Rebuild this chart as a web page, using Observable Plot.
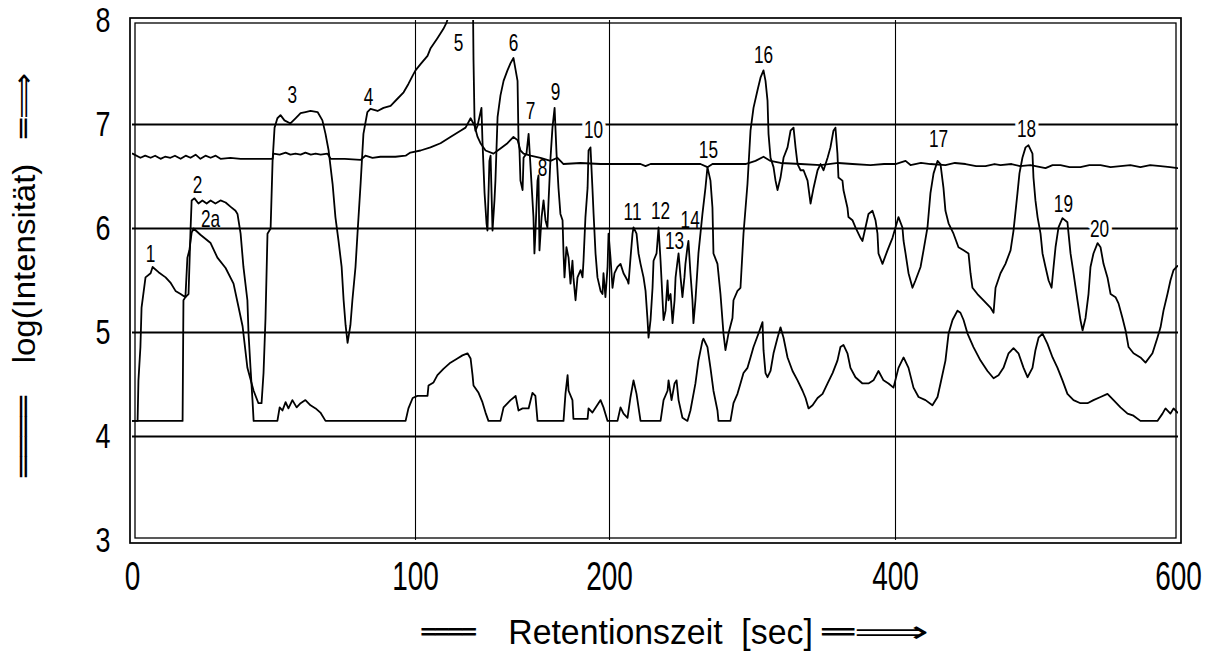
<!DOCTYPE html>
<html>
<head>
<meta charset="utf-8">
<script src="https://cdn.jsdelivr.net/npm/d3@7"></script>
<script src="https://cdn.jsdelivr.net/npm/@observablehq/plot@0.6"></script>
<style>
  html, body { margin: 0; padding: 0; background: #fff; }
  #chart svg { display: block; }
</style>
</head>
<body>
<div id="chart"></div>
<script>
// ---- axis / tick data ----
const xTicks = [0, 100, 200, 400, 600];
const yTicks = [3, 4, 5, 6, 7, 8];
const xGrid = [100, 200, 400];
const yGrid = [4, 5, 6, 7];
const xTitle = "Retentionszeit\u00a0\u00a0[sec]";
const yTitle = "log(Intensität)";
const barGlyph = "════";
const arrowGlyph = "═⟹";

// ---- series A: upper, nearly flat trace ----
const timeA = [0,2.8,4.5,6.4,8.0,9.9,11.5,13.4,15.0,17.0,18.8,20.5,22.3,24.0,25.8,27.6,29.4,31.1,34.6,38.2,43.0,49.5,49.8,52.0,54.1,55.8,57.6,59.4,61.1,63.0,64.7,66.5,68.9,70.0,75.0,80.6,82.3,84.8,87.6,92.9,96.5,98.2,102.6,107.7,112.9,118.0,123.2,125.8,128.4,130.4,132.0,133.5,136.1,140.2,143.8,147.4,150.5,152.6,154.1,155.7,159.3,164.4,169.6,173.2,176.3,185,195.4,210,221.7,225.2,228.7,245,263.6,268.5,272.0,285,295.1,302.1,307.7,312.6,319.6,333.6,347.6,360,369.9,382.5,392,400,407.1,410.6,418,424.7,435.3,442,449.5,457,463.6,470,474.2,482,488,495.4,506.0,511,516.6,523,530.7,537,544.9,552,559.0,566,573.1,580,587.3,594,599.3];
const logA = [6.72,6.68,6.70,6.68,6.70,6.67,6.69,6.68,6.70,6.67,6.70,6.68,6.71,6.67,6.70,6.68,6.70,6.67,6.68,6.67,6.67,6.67,6.72,6.71,6.73,6.71,6.72,6.71,6.73,6.71,6.72,6.71,6.72,6.67,6.67,6.66,6.70,6.68,6.69,6.69,6.70,6.73,6.75,6.78,6.82,6.88,6.94,6.97,7.06,6.99,6.88,6.82,6.75,6.72,6.77,6.82,6.88,6.85,6.75,6.72,6.70,6.68,6.65,6.68,6.62,6.63,6.62,6.62,6.62,6.60,6.62,6.62,6.62,6.59,6.62,6.62,6.62,6.65,6.69,6.65,6.63,6.62,6.61,6.63,6.62,6.61,6.62,6.62,6.65,6.61,6.63,6.62,6.61,6.63,6.62,6.60,6.60,6.62,6.61,6.62,6.60,6.61,6.58,6.61,6.61,6.59,6.59,6.61,6.61,6.59,6.60,6.61,6.59,6.61,6.60,6.59,6.58];

// ---- series B: main chromatogram with numbered peaks ----
const timeB = [0,1.8,2.1,2.8,3.2,4.6,6.4,7.1,9.2,11.7,13.4,15.2,17.0,18.7,19.4,20.1,20.9,21.6,24.0,27.6,30.0,32.9,35.7,37.5,38.9,40.6,42.8,44.5,45.6,46.3,47.0,47.7,48.8,49.5,50.2,51.2,52.3,53.7,55.8,57.6,59.4,61.1,62.9,65.4,67.1,68.2,69.3,70.7,71.7,72.8,73.9,74.6,75.3,76.0,77.0,77.7,78.8,79.5,80.6,81.6,83.0,84.1,86.6,88.7,91.2,93.7,95.8,97.5,99.0,100,102.6,106.2,107.7,111.3,114.4,116.0,120.6,129.6,129.9,130.4,130.9,132.0,134.0,134.5,135.6,136.6,137.1,138.1,138.7,139.7,140.7,141.2,142.3,143.8,145.4,147.4,149.0,150.5,152.6,153.1,153.6,154.1,155.2,155.7,157.2,158.3,159.3,160.8,161.3,161.8,162.9,163.4,163.9,165.0,166.0,167.0,168.0,168.6,169.6,170.6,171.7,172.7,173.7,174.7,175.8,176.3,176.8,177.8,178.9,179.9,180.9,181.4,182.5,183.5,185.1,186.1,186.6,187.6,188.7,189.2,190.2,191.2,191.8,192.8,193.8,195.4,196.4,196.9,197.9,199.0,199.5,200.7,202.1,203.5,205.6,207.7,209.8,212.6,213.3,214.7,216.1,216.8,218.9,220.3,221.7,223.8,225.2,226.6,227.3,228.7,230.1,230.8,232.9,234.3,235.7,237.1,237.8,239.2,240.6,241.3,242.7,244.1,245.5,246.2,247.6,248.3,249.7,251.0,252.4,253.1,254.5,255.2,256.6,258.0,258.7,260.1,262.2,265.0,267.1,268.5,270.6,272.0,272.7,275.5,277.6,279.7,281.1,283.2,286.0,286.7,289.5,291.6,293.7,296.5,298.6,300.7,303.5,305.6,307.7,309.1,310.5,311.2,312.6,314.7,316.1,317.5,319.6,321.7,324.5,326.6,328.7,330.1,331.5,333.6,335.7,338.5,340.6,342.7,345.5,347.6,349.7,352.5,354.5,356.6,358.0,359.4,360.1,362.9,363.6,366.4,367.1,369.9,372.0,375.5,376.9,379.0,381.1,383.9,386.0,387.4,388.1,390.9,394.4,397.9,400.0,402.1,404.9,405.7,407.1,409.2,412.0,414.1,417.7,419.8,422.6,424.7,426.9,429.7,431.8,433.9,435.3,437.5,441.0,444.5,448.1,451.6,453.0,454.4,457.9,462.2,467.1,469.3,470.7,474.2,477.7,481.3,483.4,486.2,487.6,489.7,491.9,494.0,496.8,497.5,498.9,500.4,502.5,503.9,506.0,508.2,510.3,511.7,513.1,515.2,518.0,521.5,522.3,523.7,525.8,528.6,530.7,532.2,534.3,536.4,537.8,539.9,542.8,544.9,547.0,549.8,552.0,555.5,557.6,560.4,562.6,564.7,568.2,573.1,576.7,581.6,585.1,587.3,589.4,592.2,594.3,596.5,599.3];
const logB = [4.15,4.15,4.54,4.86,5.24,5.53,5.57,5.63,5.58,5.53,5.48,5.40,5.37,5.34,5.72,5.79,5.96,6.00,5.94,5.86,5.72,5.62,5.47,5.24,5.06,4.66,4.44,4.32,4.32,4.61,5.14,5.95,6.00,6.65,6.97,7.06,7.09,7.04,7.01,7.06,7.11,7.12,7.13,7.12,7.04,6.91,6.75,6.43,6.11,5.88,5.63,5.31,5.07,4.90,5.07,5.31,5.63,5.95,6.43,6.91,7.12,7.15,7.13,7.16,7.18,7.25,7.31,7.39,7.47,7.52,7.58,7.66,7.73,7.83,7.92,7.98,8.25,8.20,7.62,7.07,6.94,6.99,7.16,6.85,6.34,6.05,5.98,6.65,6.70,5.98,6.27,6.46,7.07,7.28,7.42,7.52,7.59,7.64,7.42,6.85,6.75,6.46,6.37,6.68,6.72,6.91,6.59,6.11,5.76,5.95,6.46,6.51,5.79,6.11,6.27,6.08,6.01,6.27,6.68,6.97,7.16,6.72,6.39,6.14,6.08,5.76,5.53,5.82,5.72,5.47,5.69,5.53,5.31,5.53,5.60,5.53,5.69,6.11,6.39,6.75,6.78,6.39,6.14,5.76,5.53,5.40,5.37,5.57,5.34,5.63,5.95,5.72,5.43,5.57,5.63,5.66,5.57,5.50,5.47,5.72,5.95,6.01,5.95,5.76,5.66,5.53,5.40,5.12,4.95,5.12,5.43,5.69,5.76,6.01,5.69,5.31,5.12,5.21,5.50,5.31,5.37,5.09,5.31,5.53,5.69,5.76,5.53,5.34,5.53,5.66,5.82,5.88,5.57,5.31,5.09,5.31,5.76,6.14,6.39,6.59,6.46,6.20,5.76,5.66,5.37,4.99,4.83,4.99,5.14,5.31,5.40,5.43,5.95,6.43,6.94,7.16,7.33,7.45,7.52,7.42,7.23,6.91,6.68,6.59,6.46,6.37,6.49,6.68,6.78,6.94,6.97,6.78,6.62,6.56,6.56,6.46,6.24,6.39,6.56,6.62,6.56,6.68,6.78,6.94,6.97,6.72,6.49,6.46,6.37,6.20,6.11,6.08,6.01,5.91,5.88,6.01,6.14,6.17,6.08,5.95,5.76,5.66,5.79,5.91,6.01,6.11,6.01,5.88,5.76,5.57,5.43,5.50,5.63,5.79,6.01,6.34,6.53,6.65,6.62,6.39,6.17,6.05,5.95,5.82,5.79,5.76,5.57,5.43,5.37,5.31,5.24,5.19,5.43,5.57,5.66,5.79,5.98,6.34,6.53,6.68,6.78,6.80,6.72,6.49,6.27,6.11,5.95,5.76,5.63,5.50,5.43,5.63,5.82,6.01,6.10,6.06,5.95,5.76,5.57,5.31,5.12,5.02,5.14,5.37,5.63,5.76,5.86,5.82,5.66,5.53,5.37,5.34,5.28,5.14,5.02,4.86,4.80,4.76,4.71,4.80,4.95,5.05,5.21,5.37,5.50,5.60,5.64];

// ---- series C: lower trace ----
const timeC = [0,17.7,18.0,18.7,19.8,20.5,20.9,21.9,23.3,24.7,26.2,27.6,29.3,31.1,32.9,34.6,36.4,37.1,38.2,39.2,40.6,41.0,41.7,42.4,42.8,51.2,52.0,53.0,54.1,55.1,56.5,58.0,59.4,61.1,62.9,64.7,66.4,68.2,96.5,97.5,99.0,101.0,106.2,106.7,109.3,111.3,114.4,118.0,121.6,124.2,126.8,128.4,129.4,129.9,132.5,134.5,136.1,137.6,143.8,145.4,149.0,151.6,153.1,155.2,158.3,160.3,161.8,162.9,176.3,177.3,178.4,178.9,180.9,181.4,188.7,189.2,191.2,195.4,196.9,199.0,205.6,207.7,209.8,212.6,214.7,216.8,218.9,221.7,235.7,237.8,240.6,241.3,243.4,245.5,246.9,248.3,251.0,254.5,256.6,260.1,262.2,265.0,265.7,268.5,270.6,272.7,275.5,276.2,284.6,286.7,289.5,291.6,293.7,296.5,298.6,300.7,304.2,307.0,307.7,309.1,310.5,312.6,314.7,317.5,319.6,321.7,324.5,328.0,331.5,335.0,337.1,339.2,342.0,345.5,349.0,352.5,356.0,359.4,361.5,363.6,366.4,368.5,372.0,376.9,381.1,384.6,388.1,391.6,395.1,398.6,402.1,405.7,409.2,412.7,416.3,421.2,426.1,429.7,431.8,435.3,437.5,440.3,443.8,445.9,448.1,450.9,455.1,460.1,465.0,469.3,472.8,476.3,479.9,483.4,486.9,490.5,493.3,496.8,498.9,501.1,503.9,507.4,511.0,514.5,518.0,521.5,525.8,530.7,535.7,539.9,544.9,549.8,554.1,559.0,564.0,568.2,573.1,585.1,588.7,590.8,594.3,596.5,599.3];
const logC = [4.15,4.15,5.31,5.34,5.37,5.98,6.27,6.29,6.24,6.27,6.24,6.27,6.24,6.27,6.25,6.21,6.17,6.14,5.95,5.63,5.31,4.99,4.66,4.35,4.15,4.15,4.28,4.25,4.33,4.27,4.35,4.28,4.32,4.35,4.30,4.27,4.23,4.15,4.15,4.27,4.37,4.39,4.39,4.49,4.52,4.59,4.65,4.71,4.75,4.78,4.80,4.75,4.59,4.49,4.42,4.33,4.23,4.15,4.15,4.28,4.35,4.39,4.25,4.27,4.27,4.42,4.39,4.15,4.15,4.41,4.59,4.44,4.35,4.17,4.17,4.27,4.23,4.35,4.28,4.15,4.15,4.28,4.22,4.18,4.38,4.54,4.41,4.15,4.15,4.35,4.44,4.54,4.35,4.51,4.54,4.35,4.18,4.15,4.25,4.51,4.73,4.92,4.94,4.86,4.66,4.44,4.25,4.15,4.15,4.32,4.41,4.51,4.61,4.66,4.76,4.86,4.99,5.10,4.83,4.61,4.57,4.63,4.80,4.95,5.05,4.95,4.76,4.63,4.54,4.44,4.37,4.27,4.30,4.37,4.41,4.51,4.61,4.73,4.86,4.88,4.80,4.66,4.57,4.51,4.51,4.54,4.63,4.54,4.51,4.47,4.66,4.76,4.66,4.47,4.38,4.35,4.30,4.38,4.51,4.73,4.99,5.12,5.21,5.19,5.12,4.99,4.86,4.73,4.63,4.56,4.59,4.66,4.80,4.85,4.80,4.66,4.57,4.66,4.83,4.95,4.99,4.89,4.76,4.66,4.54,4.41,4.35,4.32,4.32,4.35,4.38,4.41,4.35,4.28,4.22,4.20,4.15,4.15,4.22,4.27,4.22,4.27,4.23];

// ---- peak annotations ----
const peakLabels = ["1","2","2a","3","4","5","6","7","8","9","10","11","12","13","14","15","16","17","18","19","20"];
const peakTime = [6.4,23.0,27.6,56.5,83.4,122.2,150.5,159.3,165.5,172.2,191.8,216.1,235.7,245.5,256.4,269.2,307.7,430.4,492.6,518.7,544.2];
const peakLog = [5.75,6.41,6.09,7.28,7.26,7.78,7.78,7.12,6.58,7.31,6.94,6.15,6.16,5.87,6.08,6.75,7.66,6.85,6.95,6.23,5.99];
const haloLabels = ["10","18","20"];

// ---- tables built from the arrays ----
const toRows = (ts, vs) => ts.map((t, i) => ({t, v: vs[i]}));
const seriesA = toRows(timeA, logA);
const seriesB = toRows(timeB, logB);
const seriesC = toRows(timeC, logC);
const peaks = peakLabels.map((label, i) => ({label, t: peakTime[i], v: peakLog[i]}));

const font = "'Liberation Sans', Arial, 'DejaVu Sans', sans-serif";
const symFont = "'DejaVu Sans', sans-serif";
const lineStyle = {x: "t", y: "v", stroke: "#000", strokeWidth: 1.8, clip: true};
const yTitleStyle = {frameAnchor: "left", textAnchor: "middle", lineAnchor: "middle", dx: -108, rotate: -90, fill: "#000", text: d => d};
const xTitleStyle = {frameAnchor: "bottom", textAnchor: "middle", lineAnchor: "middle", dy: 92, fill: "#000", text: d => d};

const chart = Plot.plot({
  width: 1221,
  height: 654,
  marginLeft: 132,
  marginRight: 43,
  marginTop: 20,
  marginBottom: 114,
  style: {background: "#fff", fontFamily: font, color: "#000"},
  x: {type: "linear", domain: xTicks, range: [132, 415, 609, 895, 1178]},
  y: {type: "linear", domain: [3, 8]},
  marks: [
    Plot.ruleY(yGrid, {stroke: "#000", strokeWidth: 1.8}),
    Plot.ruleX(xGrid, {stroke: "#000", strokeWidth: 1.1}),
    Plot.line(seriesA, lineStyle),
    Plot.line(seriesC, lineStyle),
    Plot.line(seriesB, lineStyle),
    Plot.frame({inset: -2.5, stroke: "#000", strokeWidth: 1.7}),
    Plot.frame({inset: 2.5, stroke: "#000", strokeWidth: 1.3}),
    Plot.text(peaks.filter(d => haloLabels.includes(d.label)), {
      x: "t", y: "v", text: "label", fontSize: 23, fill: "#000",
      stroke: "#fff", strokeWidth: 9, ariaDescription: "peak-labels"
    }),
    Plot.text(peaks.filter(d => !haloLabels.includes(d.label)), {
      x: "t", y: "v", text: "label", fontSize: 23, fill: "#000", ariaDescription: "peak-labels"
    }),
    Plot.axisX({ticks: xTicks, tickSize: 0, tickPadding: 21, fontSize: 40, label: null, tickFormat: d => String(d)}),
    Plot.axisY({ticks: yTicks, tickSize: 0, tickPadding: 22, fontSize: 35, label: null, tickFormat: d => String(d)}),
    // y title: double bar, text, double arrow (reading upwards)
    Plot.text([barGlyph], {...yTitleStyle, dy: 156, fontSize: 28, fontFamily: symFont, ariaDescription: "y-bar"}),
    Plot.text([yTitle], {...yTitleStyle, dy: -17, fontSize: 32, ariaDescription: "y-text"}),
    Plot.text([arrowGlyph], {...yTitleStyle, dy: -175, fontSize: 28, fontFamily: symFont, ariaDescription: "y-arrow"}),
    // x title: double bar, text, double arrow
    Plot.text([barGlyph], {...xTitleStyle, dx: -207, fontSize: 30, fontFamily: symFont, ariaDescription: "x-bar"}),
    Plot.text([xTitle], {...xTitleStyle, dx: 5, fontSize: 36, ariaDescription: "x-text"}),
    Plot.text([arrowGlyph], {...xTitleStyle, dx: 220, fontSize: 30, fontFamily: symFont, ariaDescription: "x-arrow"})
  ]
});

document.getElementById("chart").appendChild(chart);

// scale glyphs along the text direction, as in the scanned original
function squeeze(selector, sx) {
  chart.querySelectorAll(`${selector} text`).forEach(t => {
    const tr = t.getAttribute("transform") || "";
    t.setAttribute("transform", (tr + ` scale(${sx},1)`).trim());
  });
}
const byDesc = d => `g[aria-description="${d}"]`;
squeeze('g[aria-label="x-axis tick label"]', 0.7);
squeeze('g[aria-label="y-axis tick label"]', 0.77);
squeeze(byDesc("peak-labels"), 0.75);
squeeze(byDesc("y-bar"), 1.2);
squeeze(byDesc("y-text"), 1.03);
squeeze(byDesc("y-arrow"), 1.14);
squeeze(byDesc("x-bar"), 0.75);
squeeze(byDesc("x-text"), 0.94);
squeeze(byDesc("x-arrow"), 1.75);
</script>
</body>
</html>
